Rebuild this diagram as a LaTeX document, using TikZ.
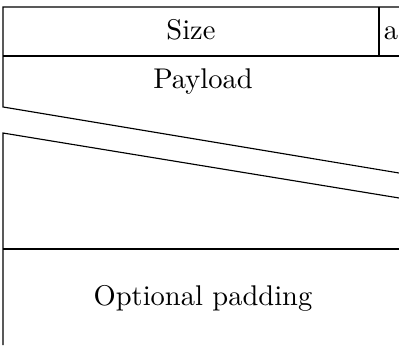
\documentclass[tikz,border=0pt]{standalone}
\usepackage{tikz}
\usetikzlibrary{positioning}
\tikzset{
  fld/.style={align=center,inner sep=0pt,text height=1.5ex,text depth=.25ex},
  rule/.style={line width=0.4pt}
}
\begin{document}
\begin{tikzpicture}
\useasboundingbox (-0.037,-4.168) rectangle (4.883,0.086);
% corners of the frame
\coordinate (tl) at (0,0);
\coordinate (tr) at (4.883,0);
\coordinate (ml) at (0,-0.604);
\coordinate (mr) at (4.883,-0.604);
\coordinate (cut1) at (0,-1.233);
\coordinate (cut1r) at (4.883,-2.047);
\coordinate (cut2) at (0,-1.554);
\coordinate (cut2r) at (4.883,-2.355);
\coordinate (pl) at (0,-2.984);
\coordinate (pr) at (4.883,-2.984);
\coordinate (bl) at (0,-4.168);
% rows
\draw[rule] (tr) -- (tl) -- (cut1) -- (cut1r);
\draw[rule] (ml) -- (mr);
\draw[rule] (4.636,0) -- (4.636,-0.604);
\draw[rule] (cut2r) -- (cut2) -- (bl);
\draw[rule] (pl) -- (pr);
% labels
\node[fld] (size) at (2.318,-0.302) {Size};
\node[fld] (abit) at (4.784,-0.302) {a};
\node[fld] (payload) at (2.466,-0.906) {Payload};
\node[fld] (pad) at (2.466,-3.58) {Optional padding};
\end{tikzpicture}
\end{document}
